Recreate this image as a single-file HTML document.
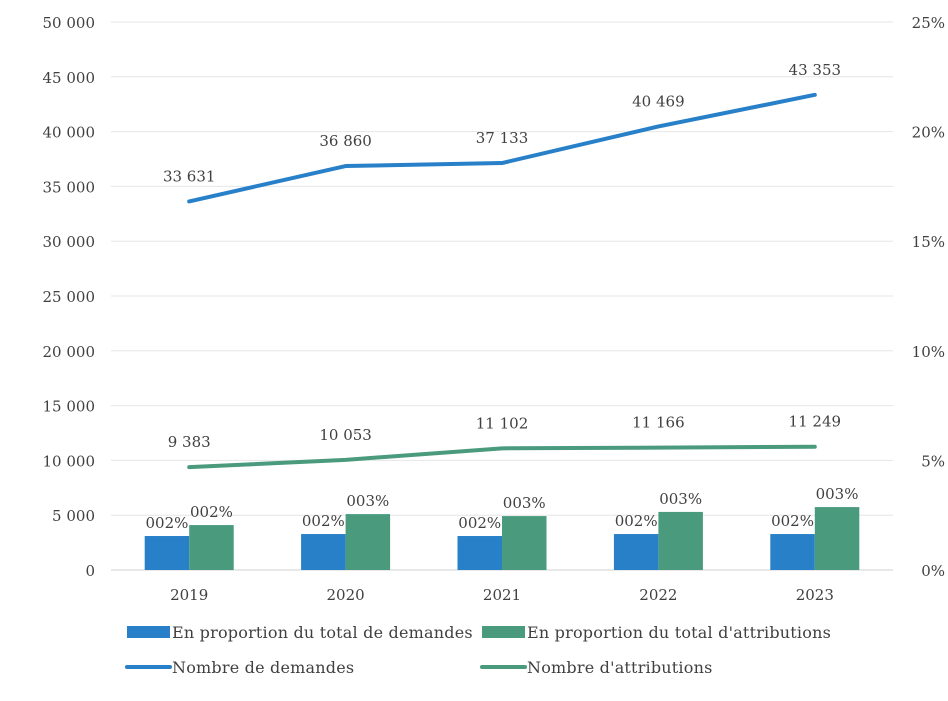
<!DOCTYPE html>
<html><head><meta charset="utf-8"><style>
body{margin:0;background:#fff;}
svg text{font-family:"DejaVu Serif","Liberation Serif",serif;fill:#404040;}
</style></head><body>
<svg id="chart" width="948" height="696" xmlns="http://www.w3.org/2000/svg"></svg>
<script>
const categories=["2019","2020","2021","2022","2023"];
const demandes=[33631,36860,37133,40469,43353];
const attributions=[9383,10053,11102,11166,11249];
const propDemandes=[1.55,1.64,1.55,1.64,1.64];
const propAttrib=[2.05,2.55,2.46,2.65,2.87];
const propDemLabels=["002%","002%","002%","002%","002%"];
const propAttLabels=["002%","003%","003%","003%","003%"];
const leftTicks=[0,5000,10000,15000,20000,25000,30000,35000,40000,45000,50000];
const rightTicks=[0,5,10,15,20,25];

const svg=document.getElementById('chart');
const NS="http://www.w3.org/2000/svg";
const x0=111,x1=893,yb=570,yt=22;
const yL=v=>yb-(v/50000)*(yb-yt);
const yR=v=>yb-(v/25)*(yb-yt);
const step=(x1-x0)/categories.length;
const xc=i=>x0+step*(i+0.5);
const fmt=v=>v===0?"0":String(v).replace(/\B(?=(\d{3})+(?!\d))/g," ");
function el(t,a,txt){const e=document.createElementNS(NS,t);for(const k in a)e.setAttribute(k,a[k]);if(txt!==undefined)e.textContent=txt;svg.appendChild(e);return e;}
const FS=15;
leftTicks.forEach(v=>{
  const g=el('line',{x1:x0,x2:x1,y1:yL(v),y2:yL(v),stroke:v===0?'#d0d0d0':'#e6e6e6','stroke-width':1});
  
  
  const t=el('text',{x:95,y:yL(v)+6,'text-anchor':'end','font-size':FS},fmt(v));
  
  
});
rightTicks.forEach(v=>{
  const t=el('text',{x:945,y:yR(v)+6,'text-anchor':'end','font-size':FS},v+'%');
  
  
});
categories.forEach((c,i)=>{
  const t=el('text',{x:xc(i),y:600,'text-anchor':'middle','font-size':FS},c);
  
  
  const bw=44.5;
  const b1=el('rect',{x:xc(i)-bw,y:yR(propDemandes[i]),width:bw,height:yb-yR(propDemandes[i]),fill:'#2880c8'});
  
  
  const b2=el('rect',{x:xc(i),y:yR(propAttrib[i]),width:bw,height:yb-yR(propAttrib[i]),fill:'#4a9a7e'});
  
  
  const l1=el('text',{x:xc(i)-bw/2,y:yR(propDemandes[i])-8,'text-anchor':'middle','font-size':FS},propDemLabels[i]);
  
  
  const l2=el('text',{x:xc(i)+bw/2,y:yR(propAttrib[i])-8,'text-anchor':'middle','font-size':FS},propAttLabels[i]);
  
  
});
function line(vals,color,name){
  const p=el('polyline',{points:vals.map((v,i)=>xc(i)+','+yL(v)).join(' '),fill:'none',stroke:color,'stroke-width':4,'stroke-linecap':'round','stroke-linejoin':'round'});
  
  
  vals.forEach((v,i)=>{
    const t=el('text',{x:xc(i),y:yL(v)-20,'text-anchor':'middle','font-size':FS},fmt(v));
    
    
  });
}
line(demandes,'#2880c8','line-nombre-demandes');
line(attributions,'#4a9a7e','line-nombre-attributions');

const leg=[
 {t:'rect',x:127,y:632,c:'#2880c8',s:'En proportion du total de demandes',n:'legend-proportion-demandes'},
 {t:'rect',x:482,y:632,c:'#4a9a7e',s:"En proportion du total d'attributions",n:'legend-proportion-attributions'},
 {t:'line',x:127,y:667,c:'#2880c8',s:'Nombre de demandes',n:'legend-nombre-demandes'},
 {t:'line',x:482,y:667,c:'#4a9a7e',s:"Nombre d'attributions",n:'legend-nombre-attributions'}];
leg.forEach(o=>{
  let m;
  if(o.t==='rect')m=el('rect',{x:o.x,y:o.y-6,width:43,height:12,fill:o.c});
  else m=el('line',{x1:o.x,x2:o.x+43,y1:o.y,y2:o.y,stroke:o.c,'stroke-width':4,'stroke-linecap':'round'});
  
  
  const t=el('text',{x:o.x+45,y:o.y+6,'font-size':16,'letter-spacing':0.2},o.s);
  
  
});
</script>
</body></html>
